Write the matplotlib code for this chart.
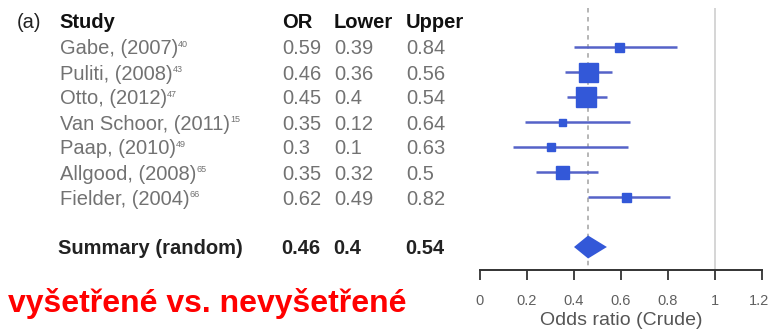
import matplotlib
matplotlib.use("Agg")
import matplotlib.pyplot as plt
from matplotlib.transforms import blended_transform_factory, ScaledTranslation

plt.rcParams['font.family'] = ['Liberation Sans', 'DejaVu Sans']

# ---- data ----
studies = ["Gabe, (2007)", "Puliti, (2008)", "Otto, (2012)", "Van Schoor, (2011)",
           "Paap, (2010)", "Allgood, (2008)", "Fielder, (2004)"]
refs = ["40", "43", "47", "15", "49", "65", "66"]
or_text = ["0.59", "0.46", "0.45", "0.35", "0.3", "0.35", "0.62"]
lower_text = ["0.39", "0.36", "0.4", "0.12", "0.1", "0.32", "0.49"]
upper_text = ["0.84", "0.56", "0.54", "0.64", "0.63", "0.5", "0.82"]
# values as drawn in the plot
or_val = [0.59, 0.46, 0.45, 0.35, 0.30, 0.35, 0.62]
ci_lo = [0.40, 0.36, 0.37, 0.19, 0.14, 0.24, 0.46]
ci_hi = [0.84, 0.56, 0.54, 0.64, 0.63, 0.50, 0.81]
weights = [9, 19, 20, 7, 8, 13, 9]  # marker size (px) ~ study weight
summary_label = "Summary (random)"
summary_or, summary_lo, summary_hi = 0.46, 0.40, 0.54
summary_text = ["0.46", "0.4", "0.54"]
headers = ["Study", "OR", "Lower", "Upper"]
xticks = [0, 0.2, 0.4, 0.6, 0.8, 1.0, 1.2]
xticklabels = ["0", "0.2", "0.4", "0.6", "0.8", "1", "1.2"]
xlabel = "Odds ratio (Crude)"
caption = "vyšetřené vs. nevyšetřené"

W, H = 770, 332
fig = plt.figure(figsize=(W / 100, H / 100), dpi=100)
row0_px, pitch = 22, 25
ax_bottom_px, ax_top_px = 270, 5
ylo = (ax_bottom_px - row0_px) / pitch
yhi = (ax_top_px - row0_px) / pitch
ax = fig.add_axes([480 / W, 1 - ax_bottom_px / H, 282 / W, (ax_bottom_px - ax_top_px) / H])
ax.set_xlim(0, 1.2)
ax.set_ylim(ylo, yhi)

line_c = '#5563c8'
mark_c = '#3358d8'

rows = list(range(1, len(studies) + 1))
summary_row = len(studies) + 2

# reference lines
ax.vlines(1.0, yhi + 0.12, ylo, color='#d2d2d2', lw=1.3, zorder=1)
ax.vlines(summary_or, yhi + 0.12, ylo, color='#b0b0b0', lw=1.3, linestyles=(0, (2.5, 2.5)), zorder=1)

for r, o, lo, hi, w in zip(rows, or_val, ci_lo, ci_hi, weights):
    ax.plot([lo, hi], [r, r], color=line_c, lw=1.8, zorder=2, solid_capstyle='butt')
    ax.plot([o], [r], marker='s', ms=w * 0.72, color=mark_c, mec=mark_c, zorder=3)

# summary diamond
dh = 0.46
ax.fill([summary_lo, summary_or, summary_hi, summary_or],
        [summary_row, summary_row - dh, summary_row, summary_row + dh],
        color=mark_c, lw=0, zorder=3)

for s in ['left', 'right', 'top']:
    ax.spines[s].set_visible(False)
ax.spines['bottom'].set_color('#333333')
ax.spines['bottom'].set_linewidth(1.4)
ax.set_yticks([])
ax.set_xticks(xticks)
ax.set_xticklabels(xticklabels)
ax.tick_params(axis='x', direction='out', length=7, width=1.3, color='#333333',
               labelsize=10.5, labelcolor='#606060', pad=10)
last = ax.get_xticklabels()[-1]
last.set_transform(last.get_transform() + ScaledTranslation(-3 / 100, 0, fig.dpi_scale_trans))
ax.set_xlabel(xlabel, fontsize=14, color='#555555', labelpad=3)

# table text
tr = blended_transform_factory(fig.transFigure, ax.transData)
fs = 14.5
gray = '#727272'
col_x = {'name': 60, 'or': 282, 'lo': 334, 'hi': 406}

ax.text(17 / W, 0, "(a)", transform=tr, fontsize=fs, color='#222222', va='center', clip_on=False)
for hx, h in zip([59, col_x['or'], col_x['lo'], col_x['hi']], headers):
    ax.text(hx / W, 0, h, transform=tr, fontsize=fs, fontweight='bold', color='#111111',
            va='center', clip_on=False)

for r, name, ref, a, b, c in zip(rows, studies, refs, or_text, lower_text, upper_text):
    yt = r + 0.08
    t = ax.text(col_x['name'] / W, yt, name, transform=tr, fontsize=fs, color=gray,
                va='center', clip_on=False)
    ax.annotate(ref, xy=(1.0, 0.95), xycoords=t, fontsize=6.5, color=gray,
                ha='left', va='top')
    for key, val in zip(['or', 'lo', 'hi'], [a, b, c]):
        ax.text(col_x[key] / W, yt, val, transform=tr, fontsize=fs, color=gray,
                va='center', clip_on=False)

ys = summary_row + 0.06
ax.text(58 / W, ys, summary_label, transform=tr, fontsize=fs, fontweight='bold',
        color='#222222', va='center', clip_on=False)
for key, val in zip(['or', 'lo', 'hi'], summary_text):
    ax.text((col_x[key] - 1) / W, ys, val, transform=tr, fontsize=fs, fontweight='bold',
            color='#222222', va='center', clip_on=False)

fig.text(8 / W, 1 - 312 / H, caption, fontsize=23, fontweight='bold', color='#ff0000',
         va='baseline', ha='left')

fig.savefig("out.png", dpi=100)
